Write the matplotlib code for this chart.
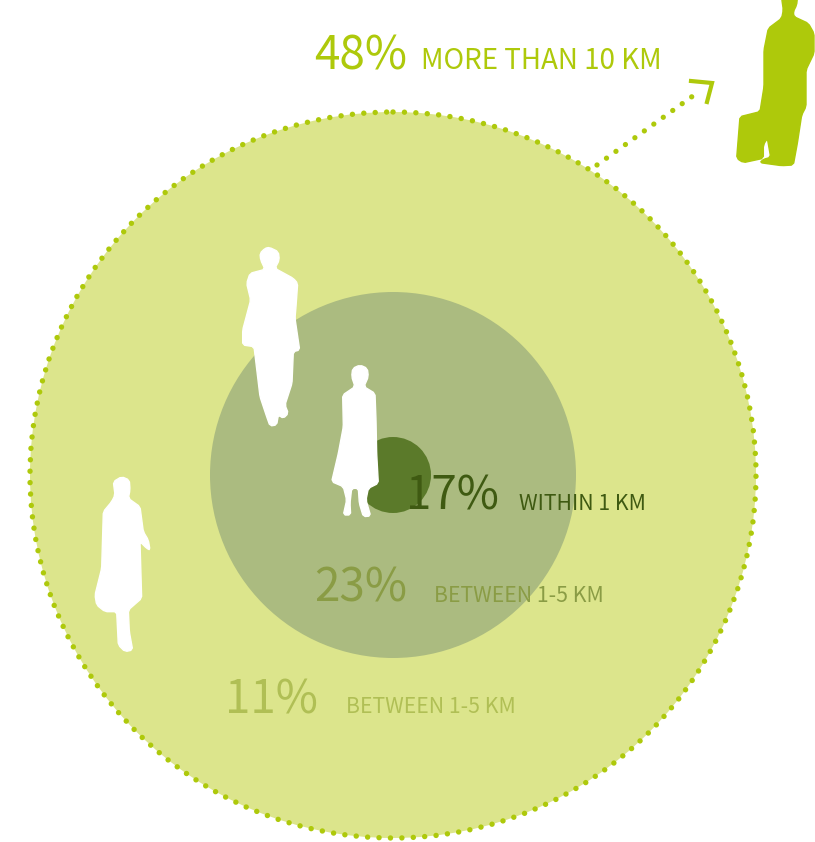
#!/usr/bin/env python3

"""
how far people live from work: nested distance rings
"""

import matplotlib
matplotlib.use("Agg")
import matplotlib.pyplot as plt
import numpy as np
from matplotlib.patches import Circle, Polygon

plt.rcParams['font.family'] = ['Noto Sans CJK SC', 'DejaVu Sans']

# rings, outer to inner
RING_RADII  = [363, 183, 38]
RING_COLORS = ["#dce58c", "#abbb80", "#5b7a2a"]
CENTER      = (393, 475)

PERCENTS = ["48%", "17%", "23%", "11%"]
LABELS   = ["MORE THAN 10 KM", "WITHIN 1 KM", "BETWEEN 1-5 KM", "BETWEEN 1-5 KM"]
COLORS   = ["#aec90b", "#3f5a12", "#8a9c45", "#b0bf55"]

PERCENT_X  = [314, 406, 314, 225]
LABEL_X    = [421, 519, 434, 346]
BASELINE   = [69, 510, 602, 713]
LABEL_SIZE = [20, 15.3, 15.3, 15.3]

LIME = "#aec90b"

# silhouettes, traced at 3x with an offset
TRAVELLER = [(665,-5),(712,-5),(710,15),(700,35),(702,50),(745,70),(762,100),(762,160),(738,210),
             (738,320),(725,345),(712,430),(700,495),(665,497),(600,488),(610,478),(632,472),(622,415),
             (610,435),(610,475),(550,488),(530,475),(540,350),(600,335),(612,260),(612,150),
             (625,85),(665,55),(670,30)]
WALKER = [(118,22),(145,35),(148,60),(135,85),(190,115),(203,130),(198,200),(195,235),
          (209,330),(190,335),(186,430),(165,495),(175,520),(160,535),(145,525),(140,555),
          (120,558),(110,530),(90,470),(72,320),(38,315),(38,270),(62,180),(50,130),
          (60,100),(105,88),(92,60),(90,40),(105,25)]
DRESS = [(390,375),(412,385),(415,410),(402,440),(435,460),(438,540),(440,640),(445,730),
         (415,745),(408,780),(422,828),(400,830),(388,790),(385,745),(365,745),(360,790),
         (362,825),(340,825),(350,780),(340,740),(305,725),(325,640),(340,560),(338,465),
         (375,440),(365,410),(368,385)]
STRIDER = [(125,35),(148,45),(150,75),(145,100),(180,125),(190,200),(205,225),(210,255),
           (200,250),(180,230),(185,400),(145,435),(148,500),(158,555),(135,560),(115,540),
           (110,440),(75,440),(50,420),(45,390),(65,310),(70,140),(95,110),(105,90),(100,50)]


def smooth(pts, cut=2.0):
    # take a small fixed bite out of each corner, short edges lose at most a quarter
    pts = np.array(pts, dtype=float)
    nxt = np.roll(pts, -1, axis=0)
    length = np.hypot(*(nxt - pts).T)
    t = np.minimum(cut / length, 0.25)[:, None]
    return np.column_stack([(1 - t) * pts + t * nxt, t * pts + (1 - t) * nxt]).reshape(-1, 2)


def shape(points, x0, y0, color, z):
    pts = smooth([(x0 + x / 3, y0 + y / 3) for x, y in points])
    return Polygon(pts, closed=True, facecolor=color, edgecolor=color,
                   linewidth=1, joinstyle="round", zorder=z)


if __name__ == "__main__":
    fig = plt.figure(figsize=(8.15, 8.42), dpi=100)
    ax = fig.add_axes([0, 0, 1, 1])
    ax.set_xlim(0, 815)
    ax.set_ylim(842, 0)
    ax.axis("off")

    for i, (r, c) in enumerate(zip(RING_RADII, RING_COLORS)):
        ax.add_patch(Circle(CENTER, r, facecolor=c, edgecolor="none", zorder=1 + i))

    # dotted rim
    ax.add_patch(Circle(CENTER, RING_RADII[0], fill=False, edgecolor=LIME, linewidth=3.9,
                        linestyle=(0, (0.01, 2.1)), capstyle="round", zorder=1.5))

    # dotted arrow leaving the big ring
    ax.plot([597, 697], [165, 93], color=LIME, linewidth=3.8,
            linestyle=(0, (0.01, 2.2)), dash_capstyle="round", zorder=2)
    ax.plot([691, 712, 707], [81, 83, 102], color=LIME, linewidth=3, zorder=2,
            solid_joinstyle="miter")

    ax.add_patch(shape(TRAVELLER, 560, 0, LIME, 5))
    ax.add_patch(shape(WALKER, 230, 240, "white", 5))
    ax.add_patch(shape(DRESS, 230, 240, "white", 5))
    ax.add_patch(shape(STRIDER, 80, 465, "white", 5))

    for i in range(len(PERCENTS)):
        ax.text(PERCENT_X[i], BASELINE[i], PERCENTS[i], color=COLORS[i],
                fontsize=33, ha="left", va="baseline", zorder=6)
        ax.text(LABEL_X[i], BASELINE[i], LABELS[i], color=COLORS[i],
                fontsize=LABEL_SIZE[i], fontweight=500, ha="left", va="baseline", zorder=6)

    fig.savefig("out.png", dpi=100)
